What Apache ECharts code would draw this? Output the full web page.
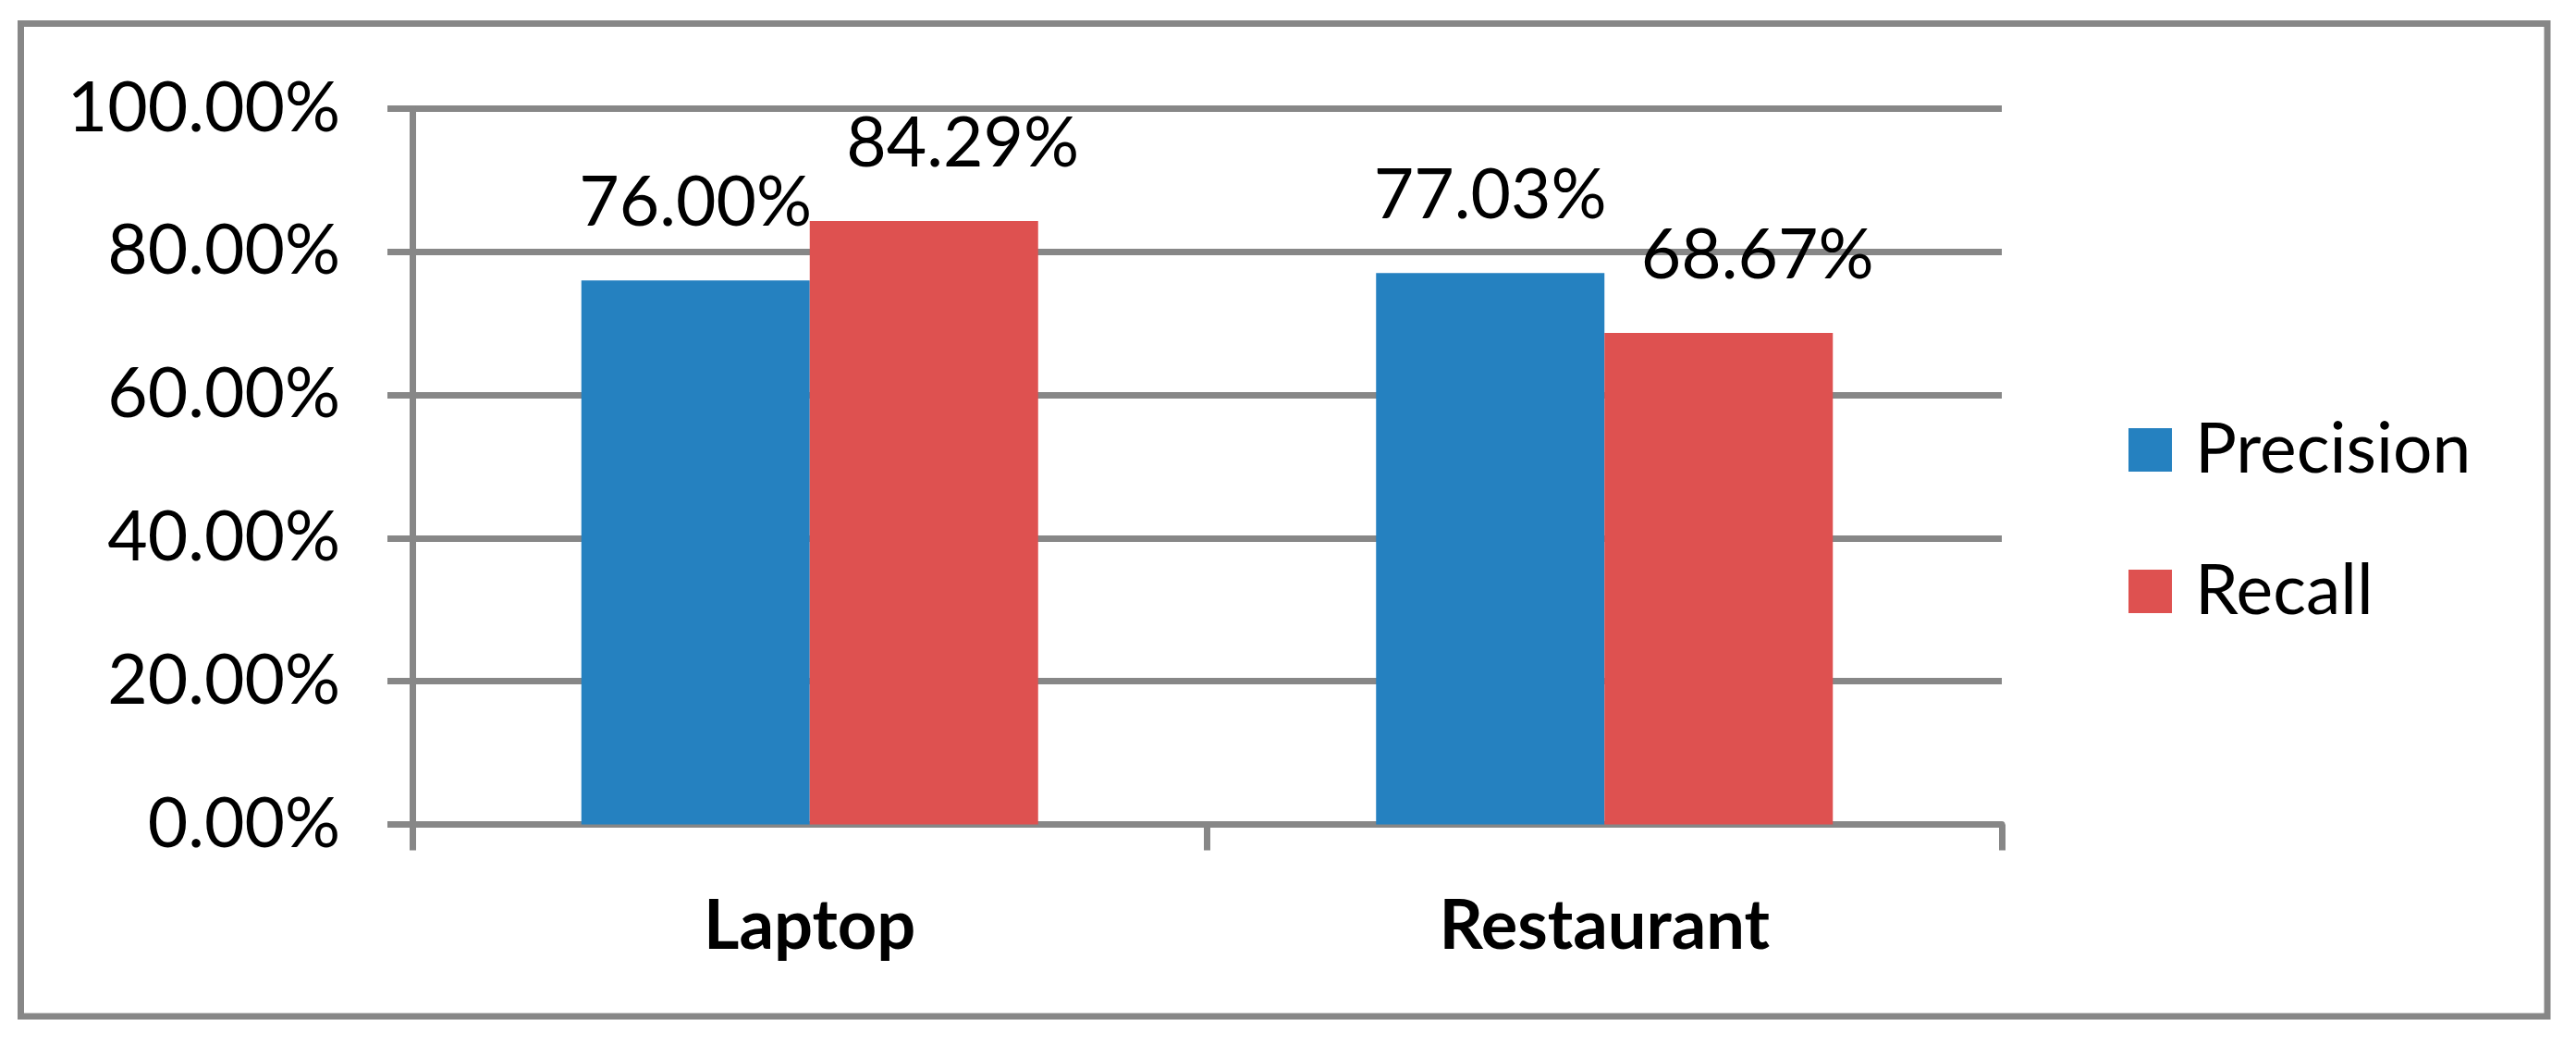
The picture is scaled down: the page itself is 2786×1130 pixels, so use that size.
<!DOCTYPE html>
<html>
<head>
<meta charset="utf-8">
<title>Precision / Recall</title>
<script src="https://cdn.jsdelivr.net/npm/echarts@6/dist/echarts.min.js"></script>
<style>
    html, body { margin: 0; padding: 0; background: #fff; }
    #main { width: 2786px; height: 1130px; }
</style>
</head>
<body>
<div id="main"></div>
<script>
"use strict"

// 数据
var categories = ["Laptop", "Restaurant"];
var precisionData = [76.00, 77.03];
var recallData = [84.29, 68.67];
var yTicks = [0, 20, 40, 60, 80, 100];

var gray = "#878787";
var fontFamily = "Lato, 'Open Sans', sans-serif";

function pct(v) {
    return Number(v).toFixed(2) + "%";
}

var myChart = echarts.init(document.getElementById("main"));

var option = {
    backgroundColor: "#fff",
    animation: false,
    textStyle: { fontFamily: fontFamily },
    // 外框
    graphic: [{
        type: "rect",
        shape: { x: 22.5, y: 25.5, width: 2732.5, height: 1073.5 },
        style: { fill: "none", stroke: gray, lineWidth: 7 }
    }],
    grid: {
        left: 446,
        right: 621,
        top: 117.5,
        bottom: 238.5
    },
    legend: {
        orient: "vertical",
        left: 2297,
        top: 444,
        itemWidth: 47,
        itemHeight: 47,
        itemGap: 78,
        icon: "rect",
        textStyle: {
            fontSize: 75,
            color: "#000",
            fontFamily: fontFamily,
            padding: [0, 0, 0, 20]
        },
        data: ["Precision", "Recall"]
    },
    xAxis: {
        type: "category",
        data: categories,
        axisLine: { lineStyle: { color: gray, width: 7 } },
        axisTick: { show: true, length: 28, lineStyle: { color: gray, width: 7 } },
        axisLabel: {
            fontSize: 74,
            fontWeight: "bold",
            color: "#000",
            margin: 74
        },
        splitLine: { show: false }
    },
    yAxis: {
        type: "value",
        min: yTicks[0],
        max: yTicks[yTicks.length - 1],
        interval: yTicks[1] - yTicks[0],
        axisLine: { show: true, lineStyle: { color: gray, width: 7 } },
        axisTick: { show: true, length: 27, lineStyle: { color: gray, width: 7 } },
        axisLabel: {
            fontSize: 75,
            color: "#000",
            margin: 78,
            formatter: pct
        },
        splitLine: { show: true, lineStyle: { color: gray, width: 7 } }
    },
    series: [{
        name: "Precision",
        type: "bar",
        data: precisionData,
        barWidth: 247,
        barGap: "0%",
        itemStyle: { color: "#2581C0" },
        label: {
            show: true,
            position: "top",
            distance: 46,
            fontSize: 75,
            color: "#000",
            formatter: function (p) { return pct(p.value); }
        }
    }, {
        name: "Recall",
        type: "bar",
        data: recallData,
        barWidth: 247,
        barGap: "0%",
        itemStyle: { color: "#DE5150" },
        label: {
            show: true,
            position: "top",
            distance: 46,
            offset: [42, 0],
            fontSize: 75,
            color: "#000",
            formatter: function (p) { return pct(p.value); }
        }
    }]
};

myChart.setOption(option);
</script>
</body>
</html>
